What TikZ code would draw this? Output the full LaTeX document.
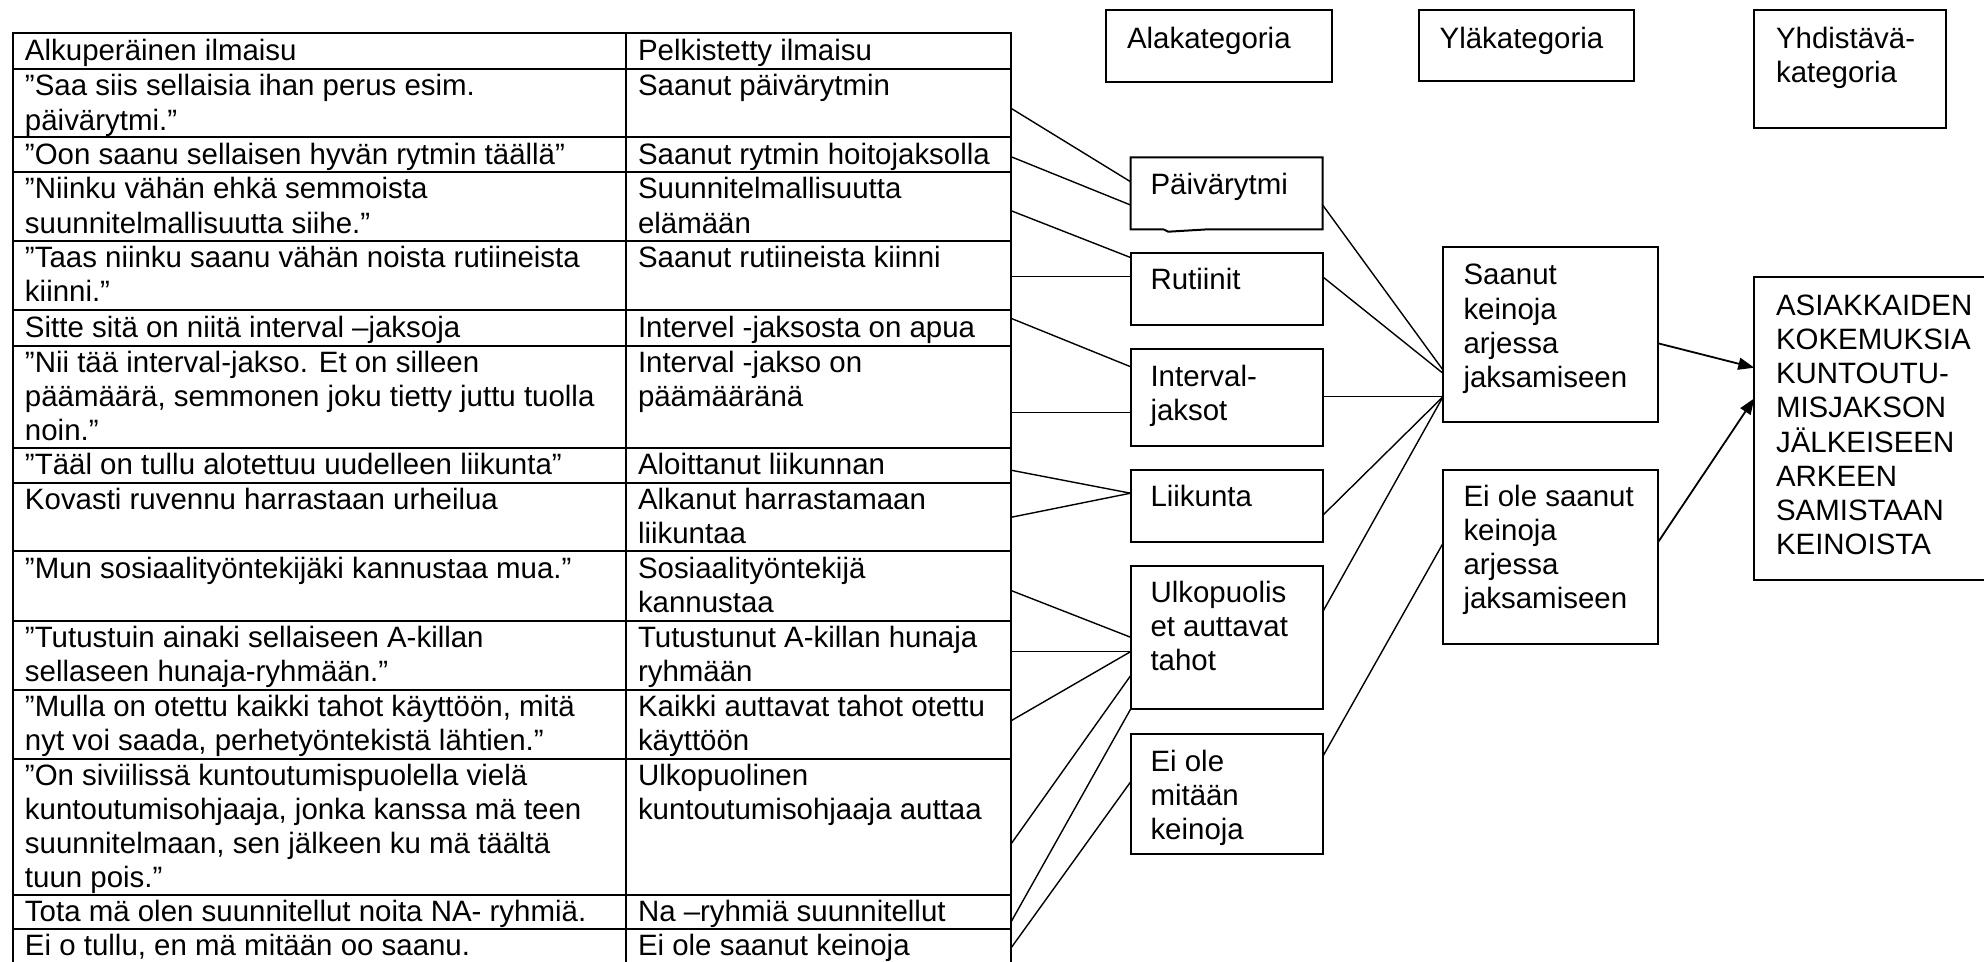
\documentclass[tikz,border=0pt]{standalone}
\usepackage{fontspec}
\setmainfont{Liberation Sans}
\usetikzlibrary{arrows.meta}
\newcommand\labelfont{\fontsize{14.72pt}{17.05pt}\selectfont}
% left-aligned stack of lines whose baseline is that of its first line
\newcommand\ml[1]{\begin{tabular}[t]{@{}l@{}}#1\end{tabular}}

\begin{document}
\begin{tikzpicture}[x=0.5pt,y=-0.5pt,
  cell/.style={draw,line width=1pt,anchor=north west,inner sep=0pt,outer sep=0pt},
  txt/.style={font=\labelfont,inner sep=0pt,outer sep=0pt,anchor=base west},
  box/.style={draw,line width=1pt,anchor=north west,inner sep=0pt,outer sep=0pt},
  link/.style={line width=0.7pt},
  arrowlink/.style={line width=0.9pt,-{Triangle[length=8pt,width=6pt]}},
]
\useasboundingbox (0,0) rectangle (1984,962);
\clip (0,0) rectangle (1984,962);

% ---------- table grid ----------
\foreach \i/\t/\b in {0/33.5/69.3, 1/69.3/137.5, 2/137.5/172.3, 3/172.3/241,
    4/241/310.5, 5/310.5/345.7, 6/345.7/448, 7/448/483, 8/483/551.3,
    9/551.3/621, 10/621/690, 11/690/758.6, 12/758.6/895, 13/895/929, 14/929/1000}{
  \node[cell, minimum width=306.5pt, minimum height={(\b-\t)*0.5pt}] (o\i) at (12.5,\t) {};
  \node[cell, minimum width=192.75pt, minimum height={(\b-\t)*0.5pt}] (p\i) at (625.5,\t) {};
}

% ---------- table text ----------
\node[txt] (o0t) at (25,60.2) {Alkuperäinen ilmaisu};
\node[txt] (p0t) at (638,60.2) {Pelkistetty ilmaisu};
\node[txt] (o1t) at (25,96) {\ml{”Saa siis sellaisia ihan perus esim.\\päivärytmi.”}};
\node[txt] (p1t) at (638,96) {Saanut päivärytmin};
\node[txt] (o2t) at (25,164.2) {”Oon saanu sellaisen hyvän rytmin täällä”};
\node[txt] (p2t) at (638,164.2) {Saanut rytmin hoitojaksolla};
\node[txt] (o3t) at (25,199) {\ml{”Niinku vähän ehkä semmoista\\suunnitelmallisuutta siihe.”}};
\node[txt] (p3t) at (638,199) {\ml{Suunnitelmallisuutta\\elämään}};
\node[txt] (o4t) at (25,267.7) {\ml{”Taas niinku saanu vähän noista rutiineista\\kiinni.”}};
\node[txt] (p4t) at (638,267.7) {Saanut rutiineista kiinni};
\node[txt] (o5t) at (25,337.2) {Sitte sitä on niitä interval –jaksoja};
\node[txt] (p5t) at (638,337.2) {Intervel -jaksosta on apua};
\node[txt] (o6t) at (25,372.4) {\ml{”Nii tää interval-jakso. Et on silleen\\päämäärä, semmonen joku tietty juttu tuolla\\noin.”}};
\node[txt] (p6t) at (638,372.4) {\ml{Interval -jakso on\\päämääränä}};
\node[txt] (o7t) at (25,474.7) {”Tääl on tullu alotettuu uudelleen liikunta”};
\node[txt] (p7t) at (638,474.7) {Aloittanut liikunnan};
\node[txt] (o8t) at (25,509.7) {Kovasti ruvennu harrastaan urheilua};
\node[txt] (p8t) at (638,509.7) {\ml{Alkanut harrastamaan\\liikuntaa}};
\node[txt] (o9t) at (25,578) {”Mun sosiaalityöntekijäki kannustaa mua.”};
\node[txt] (p9t) at (638,578) {\ml{Sosiaalityöntekijä\\kannustaa}};
\node[txt] (o10t) at (25,647.7) {\ml{”Tutustuin ainaki sellaiseen A-killan\\sellaseen hunaja-ryhmään.”}};
\node[txt] (p10t) at (638,647.7) {\ml{Tutustunut A-killan hunaja\\ryhmään}};
\node[txt] (o11t) at (25,716.7) {\ml{”Mulla on otettu kaikki tahot käyttöön, mitä\\nyt voi saada, perhetyöntekistä lähtien.”}};
\node[txt] (p11t) at (638,716.7) {\ml{Kaikki auttavat tahot otettu\\käyttöön}};
\node[txt] (o12t) at (25,785.3) {\ml{”On siviilissä kuntoutumispuolella vielä\\kuntoutumisohjaaja, jonka kanssa mä teen\\suunnitelmaan, sen jälkeen ku mä täältä\\tuun pois.”}};
\node[txt] (p12t) at (638,785.3) {\ml{Ulkopuolinen\\kuntoutumisohjaaja auttaa}};
\node[txt] (o13t) at (25,921.7) {Tota mä olen suunnitellut noita NA- ryhmiä.};
\node[txt] (p13t) at (638,921.7) {Na –ryhmiä suunnitellut};
\node[txt] (o14t) at (25,955.7) {Ei o tullu, en mä mitään oo saanu.};
\node[txt] (p14t) at (638,955.7) {Ei ole saanut keinoja};

% ---------- column headings ----------
\node[box, minimum width=113.15pt, minimum height=36.15pt] (hala) at (1106,10) {};
\node[txt] (halat) at (1127,48.3) {Alakategoria};
\node[box, minimum width=107.6pt, minimum height=35.35pt] (hyla) at (1418.6,10) {};
\node[txt] (hylat) at (1439.6,48.3) {Yläkategoria};
\node[box, minimum width=96pt, minimum height=59.15pt] (hyhd) at (1754.3,10) {};
\node[txt] (hyhdt) at (1776,48.3) {\ml{Yhdistävä-\\kategoria}};

% ---------- sub-categories ----------
\node[box, draw=none, minimum width=96.05pt, minimum height=36pt] (paiva) at (1130.5,157.3) {};
\draw[line width=1pt] (paiva.south west) -- (paiva.north west) -- (paiva.north east)
  -- (paiva.south east) -- (1208.3,229.3) -- (1168.3,231.7) -- (1163.3,229.3) -- cycle;
\node[txt] (paivat) at (1150.5,195) {Päivärytmi};
\node[box, minimum width=96.05pt, minimum height=35.85pt] (rut) at (1130.5,253.3) {};
\node[txt] (rutt) at (1150.5,290) {Rutiinit};
\node[box, minimum width=96.05pt, minimum height=48.35pt] (interval) at (1130.5,349.3) {};
\node[txt] (intervalt) at (1150.5,386.7) {\ml{Interval-\\jaksot}};
\node[box, minimum width=96.05pt, minimum height=36.15pt] (liikunta) at (1130.5,469.5) {};
\node[txt] (liikuntat) at (1150.5,506.2) {Liikunta};
\node[box, minimum width=96.05pt, minimum height=71.85pt] (ulko) at (1130.5,565.6) {};
\node[txt] (ulkot) at (1150.5,602.7) {\ml{Ulkopuolis\\et auttavat\\tahot}};
\node[box, minimum width=96.05pt, minimum height=60.15pt] (eiole) at (1130.5,733.7) {};
\node[txt] (eiolet) at (1150.5,771.5) {\ml{Ei ole\\mitään\\keinoja}};

% ---------- main categories ----------
\node[box, minimum width=107.5pt, minimum height=87.15pt] (saanut) at (1443,247.3) {};
\node[txt] (saanutt) at (1463.5,285) {\ml{Saanut\\keinoja\\arjessa\\jaksamiseen}};
\node[box, minimum width=107.5pt, minimum height=87.25pt] (eisaanut) at (1443,469.5) {};
\node[txt] (eisaanutt) at (1463.5,506) {\ml{Ei ole saanut\\keinoja\\arjessa\\jaksamiseen}};

% ---------- combining category ----------
\node[box, minimum width=122.85pt, minimum height=151.35pt] (asiak) at (1754.3,277.3) {};
\node[txt] (asiakt) at (1776,315) {\ml{ASIAKKAIDEN\\KOKEMUKSIA\\KUNTOUTU-\\MISJAKSON\\JÄLKEISEEN\\ARKEEN\\SAMISTAAN\\KEINOISTA}};

% ---------- expressions to sub-categories ----------
\draw[link] (p1.east |- 0,108.3) -- (paiva.west |- 0,181.7);
\draw[link] (p2.east |- 0,156.7) -- (paiva.west |- 0,205);
\draw[link] (p3.east |- 0,210.7) -- (rut.west |- 0,257.5);
\draw[link] (p4.east |- 0,276.7) -- (rut.west |- 0,276.7);
\draw[link] (p5.east |- 0,318.3) -- (interval.west |- 0,366.7);
\draw[link] (p6.east |- 0,412.3) -- (interval.west |- 0,412.3);
\draw[link] (p7.east |- 0,470.2) -- (liikunta.west |- 0,493.2);
\draw[link] (p8.east |- 0,517.3) -- (liikunta.west |- 0,493.2);
\draw[link] (p9.east |- 0,590.5) -- (ulko.west |- 0,637.2);
\draw[link] (p10.east |- 0,651.7) -- (ulko.west |- 0,651.7);
\draw[link] (p11.east |- 0,720.8) -- (ulko.west |- 0,651.7);
\draw[link] (p12.east |- 0,844) -- (ulko.west |- 0,675.8);
\draw[link] (p13.east |- 0,922) -- (ulko.south west);
\draw[link] (p14.east |- 0,948) -- (eiole.west |- 0,782);

% ---------- sub-categories to main categories ----------
\draw[link] (paiva.east |- 0,205) -- (saanut.west |- 0,370);
\draw[link] (rut.east |- 0,276.7) -- (saanut.west |- 0,373.3);
\draw[link] (interval.east |- 0,396.7) -- (saanut.west |- 0,396.7);
\draw[link] (liikunta.east |- 0,515.5) -- (saanut.west |- 0,396.7);
\draw[link] (ulko.east |- 0,612) -- (saanut.west |- 0,396.7);
\draw[link] (eiole.east |- 0,756.8) -- (eisaanut.west |- 0,543.3);

% ---------- main categories to combining category ----------
\draw[arrowlink] (saanut.east |- 0,343.3) -- (asiak.west |- 0,367.7);
\draw[arrowlink] (eisaanut.east |- 0,542.2) -- (asiak.west |- 0,398.3);
\end{tikzpicture}
\end{document}
